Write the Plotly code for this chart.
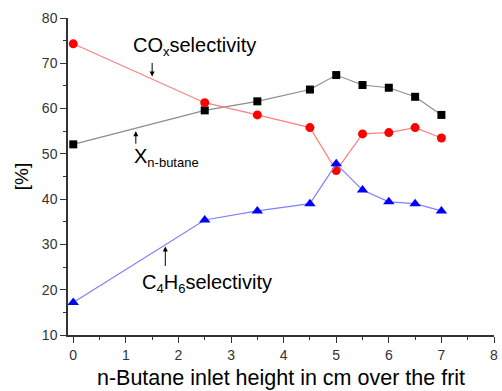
import plotly.graph_objects as go

x_pos = [0, 2.5, 3.5, 4.5, 5, 5.5, 6, 6.5, 7]
x_butane = [52.1, 59.6, 61.6, 64.2, 67.4, 65.2, 64.6, 62.6, 58.6]
cox_sel = [74.3, 61.3, 58.6, 55.8, 46.3, 54.4, 54.7, 55.8, 53.5]
c4h6_sel = [17.2, 35.4, 37.4, 39.0, 47.8, 42.0, 39.4, 39.0, 37.4]

x_ticks = [0, 1, 2, 3, 4, 5, 6, 7, 8]
y_ticks = [10, 20, 30, 40, 50, 60, 70, 80]

font = "Liberation Sans, Arial, sans-serif"

fig = go.Figure()
fig.add_trace(go.Scatter(x=x_pos, y=x_butane, mode="lines+markers",
                         line=dict(color="#8c8c8c", width=1.2),
                         marker=dict(symbol="square", size=8, color="black")))
fig.add_trace(go.Scatter(x=x_pos, y=cox_sel, mode="lines+markers",
                         line=dict(color="#ff8080", width=1.2),
                         marker=dict(symbol="circle", size=9, color="red")))
fig.add_trace(go.Scatter(x=x_pos, y=c4h6_sel, mode="lines+markers",
                         line=dict(color="#8080ff", width=1.2),
                         marker=dict(symbol="triangle-up", size=10, color="blue")))

ann_font = dict(family=font, size=20, color="black")


def sub(t):
    return "<sub><span style='font-size:13px'>" + t + "</span></sub>"


annotations = [
    dict(x=2.3, y=73.7, text="CO" + sub("x") + "selectivity", showarrow=False, font=ann_font,
         xanchor="center", yanchor="middle"),
    dict(x=1.11, y=49.3, text="X" + sub("n-butane"), showarrow=False, font=ann_font,
         xanchor="left", yanchor="middle"),
    dict(x=1.26, y=21.3, text="C" + sub("4") + "H" + sub("6") + "selectivity", showarrow=False,
         font=ann_font, xanchor="left", yanchor="middle"),
    dict(x=1.50, y=67.1, text="", showarrow=True, ax=0, ay=-15, arrowhead=2, arrowsize=1,
         arrowwidth=1, arrowcolor="black"),
    dict(x=1.19, y=55.0, text="", showarrow=True, ax=0, ay=14, arrowhead=2, arrowsize=1,
         arrowwidth=1, arrowcolor="black"),
    dict(x=1.75, y=29.55, text="", showarrow=True, ax=0, ay=21, arrowhead=2, arrowsize=1,
         arrowwidth=1, arrowcolor="black"),
]

fig.update_layout(
    width=502, height=391,
    margin=dict(l=68, r=4, t=18, b=56),
    plot_bgcolor="white", paper_bgcolor="white",
    showlegend=False,
    font=dict(family=font, color="#222"),
    annotations=annotations,
)
fig.update_xaxes(range=[-0.1, 8], tickvals=x_ticks, showgrid=False, zeroline=False,
                 showline=True, linecolor="#333", linewidth=1.5,
                 ticks="outside", ticklen=6, tickwidth=1.2, tickcolor="#333",
                 ticklabeloverflow="allow",
                 minor=dict(ticks="outside", ticklen=3, tickwidth=1, tickcolor="#333", dtick=0.5),
                 tickfont=dict(size=14, family=font, color="#333"),
                 title=dict(text="n-Butane inlet height in cm over the frit",
                            font=dict(size=21.5, family=font, color="black"), standoff=8))
fig.update_yaxes(range=[10, 80], tickvals=y_ticks, showgrid=False, zeroline=False,
                 showline=True, linecolor="#333", linewidth=1.5,
                 ticks="outside", ticklen=6, tickwidth=1.2, tickcolor="#333",
                 minor=dict(ticks="outside", ticklen=3, tickwidth=1, tickcolor="#333", dtick=5),
                 tickfont=dict(size=14, family=font, color="#333"),
                 title=dict(text="[%]", font=dict(size=19, family=font, color="black"), standoff=8))

fig.write_html("out.html", config={"displayModeBar": False},
               post_script="document.body.style.margin='0px';")
